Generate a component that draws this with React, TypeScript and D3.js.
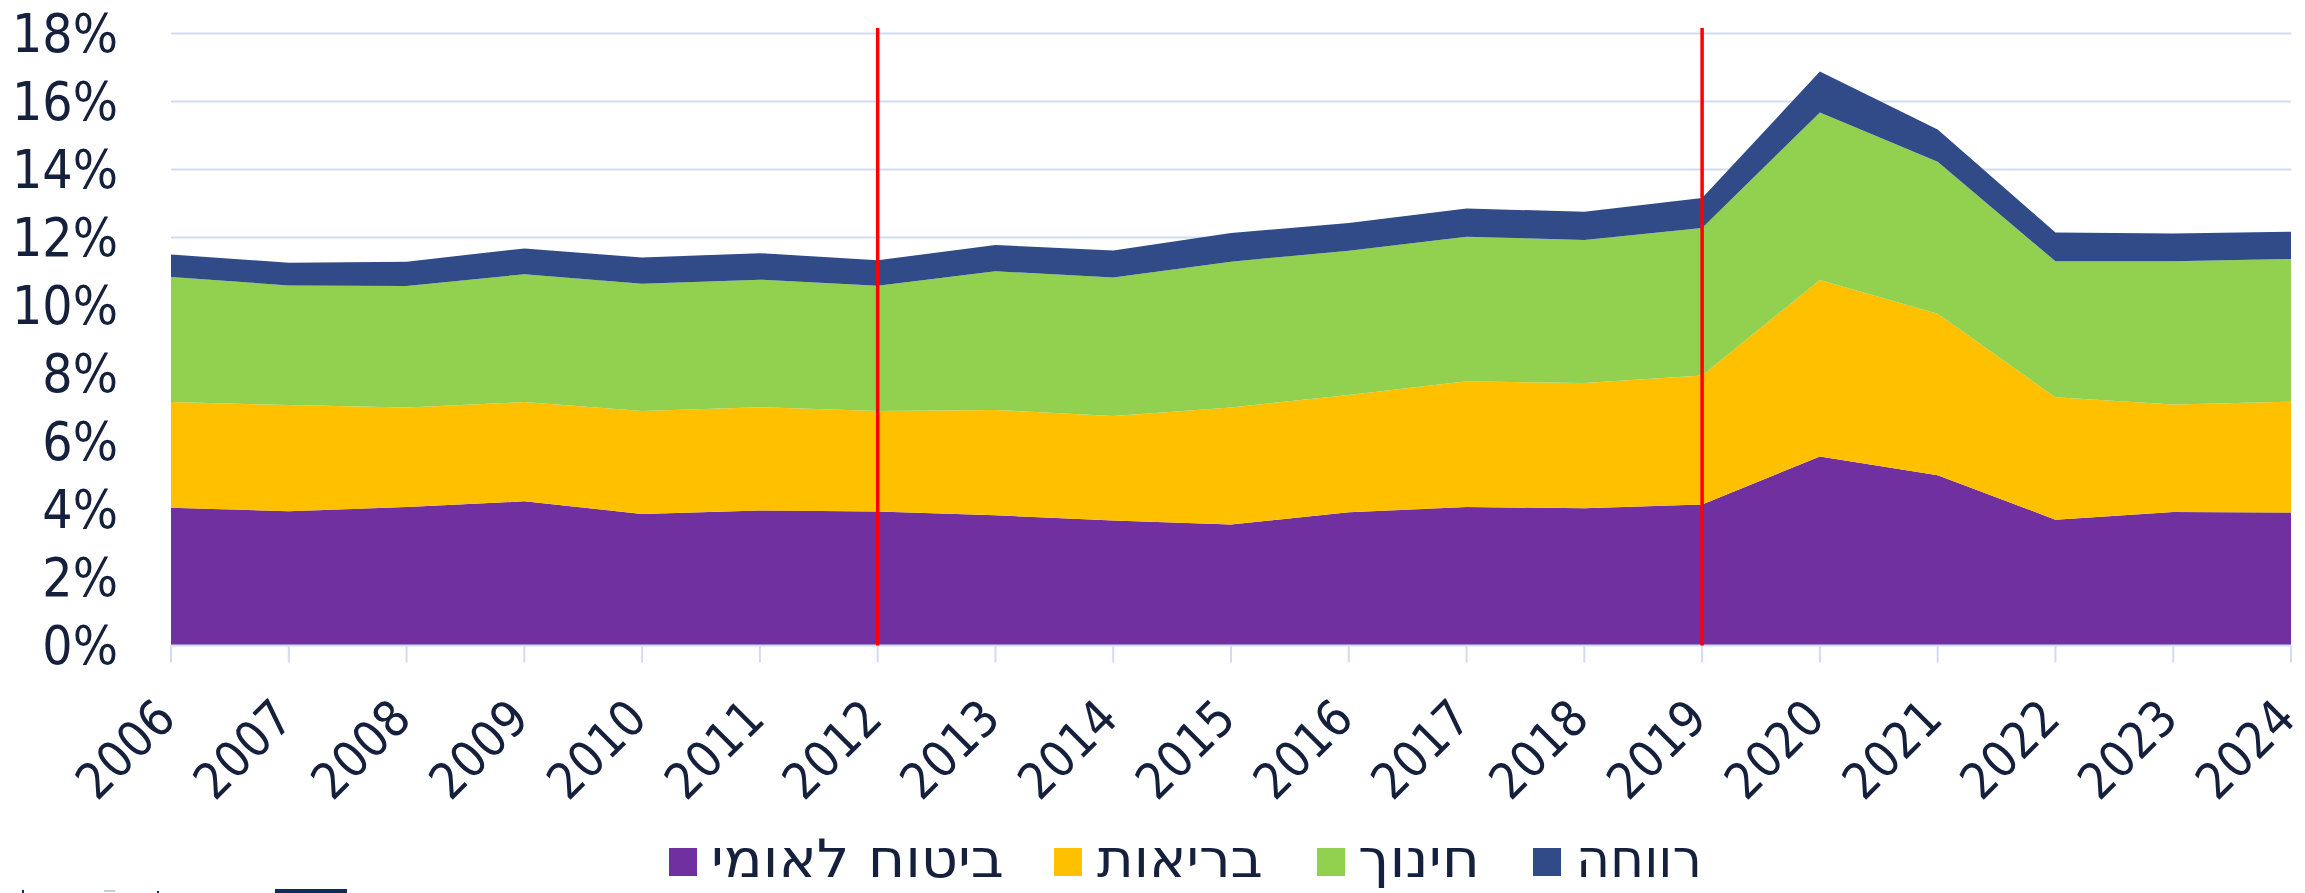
import React from "react";
import * as d3 from "d3";

const years = [2006, 2007, 2008, 2009, 2010, 2011, 2012, 2013, 2014, 2015, 2016, 2017, 2018, 2019, 2020, 2021, 2022, 2023, 2024];

// ביטוח לאומי
const bituach = [4.05, 3.95, 4.07, 4.24, 3.87, 3.97, 3.94, 3.83, 3.68, 3.56, 3.92, 4.07, 4.04, 4.15, 5.56, 5.01, 3.70, 3.93, 3.91];
// בריאות
const briut = [3.11, 3.12, 2.93, 2.92, 3.03, 3.04, 2.96, 3.10, 3.07, 3.44, 3.45, 3.70, 3.68, 3.79, 5.19, 4.75, 3.60, 3.16, 3.26];
// חינוך
const chinuch = [3.68, 3.52, 3.57, 3.76, 3.74, 3.75, 3.68, 4.08, 4.07, 4.29, 4.24, 4.25, 4.21, 4.34, 4.93, 4.47, 4.00, 4.21, 4.20];
// רווחה
const revacha = [0.66, 0.67, 0.72, 0.76, 0.77, 0.78, 0.75, 0.77, 0.80, 0.84, 0.82, 0.83, 0.83, 0.88, 1.20, 0.95, 0.85, 0.82, 0.80];

const seriesNames = ["ביטוח לאומי", "בריאות", "חינוך", "רווחה"];
const seriesColors = ["#7030A0", "#FFC000", "#92D050", "#314B89"];
const yTicks = [0, 2, 4, 6, 8, 10, 12, 14, 16, 18];
const markerYears = [2012, 2019];

const W = 2305;
const H = 893;
const textColor = "#14203C";
const gridColor = "#D3DBF0";

export default function App() {
  const x = d3.scalePoint<number>().domain(years).range([171, 2291]);
  const y = d3.scaleLinear().domain([0, 18]).range([645.5, 33.5]);

  const seriesValues = [bituach, briut, chinuch, revacha];
  const table = years.map((yr, i) => {
    const row: any = { year: yr };
    seriesNames.forEach((n, k) => (row[n] = seriesValues[k][i]));
    return row;
  });
  const stack = d3.stack<any>().keys(seriesNames);
  const layers = stack(table);
  const area = d3
    .area<any>()
    .x((d) => x(d.data.year) as number)
    .y0((d) => y(d[0]))
    .y1((d) => y(d[1]))
    .curve(d3.curveLinear);

  const legendSquareX = [669, 1054, 1317, 1533];
  const legendTextX = [711, 1097, 1358, 1576];
  const legendTextW = [293, 166, 122, 126];
  const font = "'DejaVu Sans Condensed', 'DejaVu Sans', Verdana, sans-serif";

  return (
    <svg
      width={W}
      height={H}
      viewBox={`0 0 ${W} ${H}`}
      style={{ position: "absolute", left: 0, top: 0, display: "block", background: "#fff" }}
    >
      <rect x={0} y={0} width={W} height={H} fill="#fff" />
      {/* gridlines */}
      {yTicks.filter((t) => t > 0).map((t) => (
        <line key={t} x1={171} x2={2291} y1={y(t)} y2={y(t)} stroke={gridColor} strokeWidth={2} />
      ))}
      {/* areas */}
      {layers.map((layer, i) => (
        <path key={i} d={area(layer) as string} fill={seriesColors[i]} />
      ))}
      {/* baseline and ticks */}
      <line x1={171} x2={2291} y1={y(0)} y2={y(0)} stroke={gridColor} strokeWidth={2} />
      {years.map((yr) => (
        <line key={yr} x1={x(yr)} x2={x(yr)} y1={y(0)} y2={y(0) + 17} stroke={gridColor} strokeWidth={2} />
      ))}
      {/* red markers */}
      {markerYears.map((yr) => (
        <line key={yr} x1={x(yr)} x2={x(yr)} y1={28} y2={y(0)} stroke="#FF0000" strokeWidth={3.5} />
      ))}
      {/* y labels */}
      {yTicks.map((t) => (
        <text
          key={t}
          x={118}
          y={y(t)}
          textAnchor="end"
          dominantBaseline="central"
          fontFamily={font}
          fontSize={53}
          fill={textColor}
        >
          {`${t}%`}
        </text>
      ))}
      {/* x labels */}
      {years.map((yr) => {
        const px = (x(yr) as number) + 7;
        const py = 721;
        return (
          <text
            key={yr}
            transform={`translate(${px},${py}) rotate(-45)`}
            textAnchor="end"
            fontFamily={font}
            fontSize={50}
            fill={textColor}
          >
            {yr}
          </text>
        );
      })}
      {/* legend */}
      {seriesNames.map((n, i) => (
        <g key={n}>
          <rect x={legendSquareX[i]} y={848} width={28} height={28} fill={seriesColors[i]} />
          <text
            x={legendTextX[i]}
            y={877}
            textAnchor="start"
            fontFamily={font}
            fontSize={53}
            fill={textColor}
            textLength={legendTextW[i]}
            lengthAdjust="spacingAndGlyphs"
          >
            {n}
          </text>
        </g>
      ))}
      {/* cut-off elements at bottom edge */}
      <rect x={22} y={890} width={2} height={3} fill="#0F2D52" />
      <rect x={104} y={890} width={11} height={2} fill="#C9CFDA" />
      <rect x={157} y={891} width={2} height={2} fill="#0F2D52" />
      <rect x={275} y={889} width={72} height={4} fill="#0F2D52" />
    </svg>
  );
}
